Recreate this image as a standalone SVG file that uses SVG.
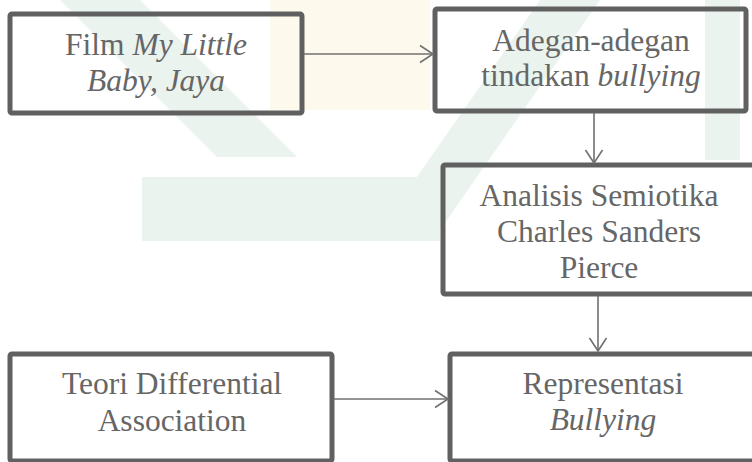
<svg xmlns="http://www.w3.org/2000/svg" width="752" height="462" viewBox="0 0 752 462">
<style>
.box{fill:none;stroke:#606060;stroke-width:5}
.t{font-size:31.5px;fill:#666666;text-anchor:middle}
.i{font-style:italic}
.c{stroke:#707070;stroke-width:1.6;fill:none}
.wm{fill:#e3eee8}
</style>
<defs>
<marker id="arr" markerUnits="userSpaceOnUse" markerWidth="16" markerHeight="20" viewBox="0 0 16 20" refX="14" refY="10" orient="auto">
<path d="M1,1.5 L14,10 L1,18.5" fill="none" stroke="#707070" stroke-width="1.6"/>
</marker>
</defs>
<rect width="752" height="462" fill="#ffffff"/>
<g id="watermark" opacity="0.7">
<polygon class="wm" points="60,0 140,0 297,157 217,157"/>
<polygon class="wm" points="142,177 440,177 440,241 142,241"/>
<polygon class="wm" points="540,0 600,0 440,230 380,230"/>
<polygon class="wm" points="705,0 740,0 740,160 705,160"/>
<rect x="270" y="0" width="160" height="110" fill="#fdf9e6"/>
</g>
<g font-family="'Liberation Serif', Tinos, 'Times New Roman', 'DejaVu Serif', serif">
<g id="n1"><rect class="box" x="10" y="14" width="292" height="99" rx="2"/>
<text class="t" x="156" y="55">Film <tspan class="i">My Little</tspan></text>
<text class="t i" x="156" y="91">Baby, Jaya</text></g>
<g id="n2"><rect class="box" x="435" y="9" width="311" height="102" rx="2"/>
<text class="t" x="591" y="51">Adegan-adegan</text>
<text class="t" x="591" y="86">tindakan <tspan class="i">bullying</tspan></text></g>
<g id="n3"><rect class="box" x="443" y="165" width="320" height="129" rx="2"/>
<text class="t" x="599" y="206">Analisis Semiotika</text>
<text class="t" x="599" y="242">Charles Sanders</text>
<text class="t" x="599" y="278">Pierce</text></g>
<g id="n4"><rect class="box" x="450" y="354" width="320" height="107" rx="2"/>
<text class="t" x="603" y="394">Representasi</text>
<text class="t i" x="603" y="430">Bullying</text></g>
<g id="n5"><rect class="box" x="10" y="354" width="322" height="107" rx="2"/>
<text class="t" x="172" y="394">Teori Differential</text>
<text class="t" x="172" y="431">Association</text></g>
</g>
<g id="connectors">
<line class="c" x1="304" y1="54" x2="433" y2="54" marker-end="url(#arr)"/>
<line class="c" x1="594" y1="113" x2="594" y2="163" marker-end="url(#arr)"/>
<line class="c" x1="598" y1="296" x2="598" y2="351" marker-end="url(#arr)"/>
<line class="c" x1="334" y1="399" x2="448" y2="399" marker-end="url(#arr)"/>
</g>
</svg>
